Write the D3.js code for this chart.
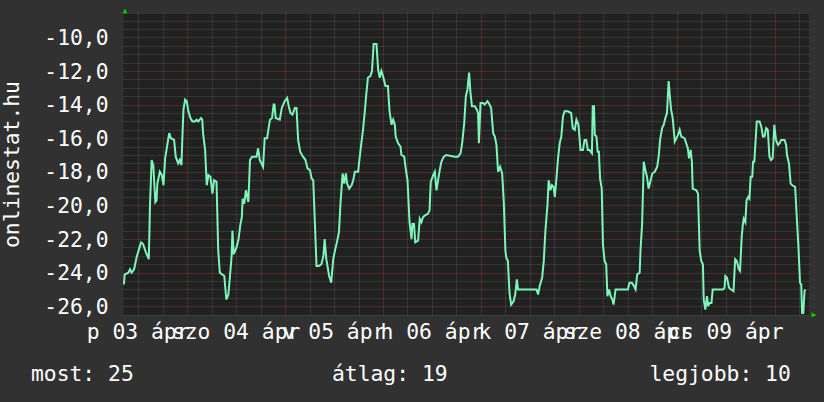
<!DOCTYPE html>
<html>
<head>
<meta charset="utf-8">
<script src="https://cdn.jsdelivr.net/npm/d3@7"></script>
<style>
body { margin: 0; background: #313131; }
svg { display: block; }
text { font-family: "DejaVu Sans Mono", monospace; font-size: 21.33px; fill: #ffffff; }
</style>
</head>
<body>
<svg id="chart" width="824" height="402"></svg>
<script>
// hours since 2015-04-03 00:00 and the value read at that time
const hours = [
  8.5, 8.7, 9.6, 10.0, 10.4, 11.0, 11.6, 12.2, 12.7, 13.2, 13.9, 14.6, 14.9, 15.3, 15.7, 16.2, 16.5, 16.7,
  17.3, 17.8, 18.2, 18.6, 19.0, 19.6, 20.0, 20.8, 21.2, 21.8, 22.2, 22.6, 22.9, 23.1, 23.5, 23.9, 24.3,
  24.8, 25.3, 25.9, 26.3, 26.7, 27.4, 27.7, 27.9, 28.4, 28.8, 29.2, 29.7, 30.2, 30.6, 31.2, 31.6, 32.0,
  33.1, 33.6, 34.1, 34.5, 34.9, 35.1, 35.4, 36.1, 36.6, 37.0, 37.4, 37.6, 38.0, 38.4, 39.0, 39.4, 39.9,
  41.0, 41.4, 41.8, 42.6, 43.0, 43.6, 43.9, 44.3, 44.8, 45.2, 45.4, 45.7, 46.7, 47.2, 47.9, 48.5, 48.9,
  49.3, 49.8, 50.4, 50.8, 51.2, 51.7, 52.4, 53.0, 53.5, 54.1, 54.5, 54.9, 55.3, 55.7, 56.3, 56.9, 57.4,
  57.7, 58.1, 58.8, 59.3, 59.8, 60.3, 60.7, 61.2, 61.6, 62.1, 62.5, 62.9, 63.2, 63.7, 64.3, 64.7, 65.1,
  65.9, 66.3, 66.7, 67.1, 67.5, 67.9, 68.3, 68.9, 69.3, 69.7, 70.4, 70.8, 71.2, 71.6, 72.0, 72.6, 73.2,
  73.6, 74.1, 74.5, 74.9, 75.1, 75.7, 76.3, 76.5, 77.2, 77.5, 78.0, 78.5, 79.0, 79.2, 79.6, 79.9, 80.6,
  81.0, 81.4, 81.8, 82.2, 83.0, 83.4, 83.7, 84.3, 84.7, 85.1, 85.5, 85.9, 86.3, 86.9, 87.5, 89.6, 90.4,
  91.0, 91.4, 91.9, 92.3, 92.7, 93.1, 93.4, 93.8, 94.5, 95.0, 95.3, 95.5, 95.9, 96.5, 96.9, 97.6, 98.1,
  98.5, 99.0, 99.4, 99.8, 100.2, 100.7, 101.2, 101.6, 102.0, 102.2, 102.6, 103.0, 103.4, 104.0, 104.4,
  104.8, 105.1, 105.9, 109.6, 110.0, 110.4, 111.0, 111.4, 111.8, 112.3, 112.6, 113.0, 113.4, 113.8,
  114.1, 114.5, 114.9, 115.3, 115.7, 116.1, 116.5, 117.3, 118.1, 118.5, 119.0, 119.4, 119.9, 120.4,
  121.0, 121.4, 121.8, 122.2, 122.6, 123.2, 123.4, 123.7, 123.9, 124.3, 124.6, 124.9, 125.2, 125.6,
  125.9, 126.3, 126.7, 127.0, 127.4, 127.8, 128.2, 128.5, 129.0, 132.0, 132.4, 133.0, 133.5, 133.9,
  134.3, 134.9, 135.1, 135.5, 135.9, 136.3, 136.7, 137.1, 137.6, 138.0, 138.6, 139.2, 139.6, 139.9,
  140.4, 140.8, 141.2, 141.6, 142.0, 142.3, 142.6, 143.0, 143.5, 143.9, 144.3, 144.7, 145.1, 145.9,
  146.3, 146.7, 147.0, 147.4, 147.7, 147.9, 148.8, 149.2, 149.6, 150.0, 150.4, 150.6, 151.0, 151.4,
  151.7, 152.0, 152.5, 152.8, 155.3, 155.7, 155.9, 156.3, 156.8, 157.3, 157.9, 158.3, 158.7, 159.2,
  159.5, 159.9, 160.2, 160.4, 160.8, 161.1, 161.5, 161.8, 162.1, 162.5, 162.7, 163.0, 163.3, 163.6,
  164.3, 164.7, 165.1, 165.5, 165.9, 166.3, 166.7, 167.1, 167.5, 167.9, 168.3, 168.8, 169.2, 169.6,
  170.4, 170.8, 171.0, 171.5, 171.9, 172.3, 173.0, 173.4, 173.8, 174.2, 174.5, 174.7, 175.0, 175.3,
  175.5
];
const values = [
  -24.7, -24.1, -24.0, -23.8, -24.0, -23.8, -23.1, -22.6, -22.2, -22.3, -22.8, -23.2, -19.9, -17.3, -17.6, -19.8, -19.7, -18.7,
  -18.0, -18.2, -18.8, -17.2, -16.6, -15.7, -16.0, -16.1, -17.1, -17.5, -17.3, -17.6, -15.5, -14.3, -13.7, -13.8, -14.4,
  -14.8, -15.0, -15.0, -14.9, -15.0, -14.8, -14.9, -15.7, -16.7, -18.8, -18.2, -18.3, -19.3, -18.5, -18.6, -22.6, -24.0,
  -24.2, -25.6, -25.3, -24.2, -23.0, -21.5, -22.9, -22.5, -22.0, -21.2, -20.7, -19.6, -19.9, -19.1, -19.8, -17.3, -17.1,
  -17.1, -16.6, -17.3, -17.7, -16.0, -16.0, -15.5, -14.9, -14.8, -14.0, -14.0, -14.8, -14.9, -14.2, -13.8, -13.6, -14.1,
  -14.5, -14.6, -14.2, -14.2, -16.1, -16.8, -17.1, -17.3, -17.8, -17.9, -18.4, -18.5, -21.0, -23.6, -23.6, -23.5, -23.0,
  -22.0, -23.2, -24.2, -24.6, -23.2, -22.6, -22.2, -21.6, -19.8, -18.1, -18.7, -18.1, -18.7, -19.0, -18.8, -18.5, -18.0,
  -18.0, -17.1, -16.3, -15.5, -14.5, -13.4, -12.4, -12.3, -12.0, -10.4, -10.4, -11.9, -12.4, -12.0, -12.3, -12.9, -12.9,
  -14.4, -15.2, -14.9, -15.2, -15.9, -16.3, -16.5, -17.0, -17.1, -17.7, -18.5, -21.0, -22.0, -21.1, -21.1, -22.2, -22.1,
  -20.8, -21.0, -20.7, -20.6, -20.5, -20.3, -18.6, -18.2, -18.0, -19.1, -18.5, -17.9, -17.4, -17.1, -17.0, -17.1, -17.1,
  -16.9, -16.3, -15.1, -13.5, -13.1, -12.1, -13.2, -14.1, -14.1, -14.3, -14.5, -16.3, -13.9, -13.9, -14.0, -13.8, -14.0,
  -14.2, -15.7, -15.9, -16.4, -18.0, -17.7, -18.1, -19.8, -22.7, -23.1, -23.3, -25.2, -25.9, -25.7, -25.3,
  -24.4, -25.0, -25.0, -25.0, -25.3, -24.8, -24.3, -23.3, -21.5, -20.0, -18.5, -19.1, -18.8, -18.9,
  -19.5, -18.4, -17.2, -16.3, -15.9, -14.7, -14.4, -14.4, -14.5, -15.4, -15.5, -14.9, -15.2, -16.7,
  -16.7, -16.1, -16.1, -16.7, -16.7, -16.9, -14.1, -14.1, -15.8, -15.9, -16.8, -16.8, -18.4, -19.0,
  -22.3, -23.3, -23.5, -25.4, -25.0, -25.4, -25.6, -25.9, -25.0, -25.0, -24.6, -24.6, -24.8, -25.0,
  -24.1, -24.0, -22.7, -21.1, -17.4, -17.9, -18.3, -19.0, -18.5, -18.1, -18.0, -17.7, -17.0, -16.1,
  -15.4, -15.2, -14.8, -14.5, -12.6, -13.5, -14.3, -14.8, -16.2, -16.0, -15.8, -15.5, -15.9, -16.0,
  -16.3, -16.6, -17.2, -16.7, -17.4, -19.0, -19.1, -19.3, -22.7, -23.3, -23.5, -25.6, -26.2, -25.4,
  -26.0, -25.8, -25.8, -25.0, -25.0, -24.9, -24.2, -24.3, -24.9, -25.0, -25.1, -23.2, -23.3, -23.8,
  -23.9, -21.9, -21.1, -20.8, -21.0, -19.7, -19.5, -19.6, -18.3, -18.3, -17.4, -17.4, -16.2, -15.0,
  -15.0, -15.3, -15.9, -15.9, -15.4, -15.5, -17.1, -17.3, -17.2, -15.2, -16.1, -16.4, -16.3, -16.1,
  -16.1, -16.4, -17.0, -17.5, -18.7, -18.8, -18.9, -20.7, -22.4, -24.6, -24.7, -26.4, -26.4, -25.1,
  -25.0
];

const yTicks = [-10, -12, -14, -16, -18, -20, -22, -24, -26];
const dayLabels = ["p 03 ápr", "szo 04 ápr", "v 05 ápr", "h 06 ápr", "k 07 ápr", "sze 08 ápr", "cs 09 ápr"];
const legendNames = ["most", "átlag", "legjobb"];
const legendValues = [25, 19, 10];

const plotLeft = 123.5, plotRight = 809, plotTop = 14, plotBottom = 315;
const t0 = Date.UTC(2015, 3, 3);
const hourMs = 3600 * 1000;
const at = h => new Date(t0 + h * hourMs);

const x = d3.scaleUtc().domain([at(8.4), at(176.4)]).range([plotLeft, plotRight]);
const y = d3.scaleLinear().domain([-26.52, -8.61]).range([plotBottom, plotTop]);

const fmt = d3.formatLocale({ decimal: ",", thousands: " ", grouping: [3], currency: ["", ""], minus: "-" }).format(".1f");

const svg = d3.select("#chart");

svg.append("rect")
  .attr("x", plotLeft).attr("y", plotTop)
  .attr("width", plotRight - plotLeft).attr("height", plotBottom - plotTop)
  .attr("fill", "#212121");

// horizontal grid, minor every 0.5, major every 2
const hVals = d3.range(-26.5, -8.6, 0.5).filter(v => y(v) >= plotTop && y(v) <= plotBottom + 0.5);
const isMajorY = v => Math.abs(v % 2) < 1e-6;
// vertical grid, minor every 6 hours, major at midnight
const vTimes = d3.utcHour.every(6).range(x.domain()[0], x.domain()[1]);
const isMajorX = d => d.getUTCHours() === 0;

const grid = svg.append("g").attr("stroke-width", 1).attr("stroke-dasharray", "1,1").attr("fill", "none");

function drawGrid(major, color) {
  grid.selectAll(null)
    .data(hVals.filter(v => isMajorY(v) === major))
    .enter().append("line")
      .attr("x1", plotLeft).attr("x2", plotRight + 2)
      .attr("y1", d => Math.round(y(d)) + 0.5).attr("y2", d => Math.round(y(d)) + 0.5)
      .attr("stroke", color);
  grid.selectAll(null)
    .data(vTimes.filter(d => isMajorX(d) === major))
    .enter().append("line")
      .attr("x1", d => Math.round(x(d)) + 0.5).attr("x2", d => Math.round(x(d)) + 0.5)
      .attr("y1", plotTop - 1.5).attr("y2", plotBottom)
      .attr("stroke", color);
}
drawGrid(false, "#4c4c4c");
drawGrid(true, "#7a3838");

// the series
const line = d3.line()
  .x((d, i) => x(at(hours[i])))
  .y(d => y(d));

svg.append("path")
  .datum(values)
  .attr("d", line)
  .attr("fill", "none")
  .attr("stroke", "#7df5bb")
  .attr("stroke-width", 2);

// axis arrows
svg.append("path")
  .attr("d", `M${plotLeft - 1},${plotTop - 0.5}L${plotLeft + 4},${plotTop - 0.5}L${plotLeft + 1.5},${plotTop - 5.5}Z`)
  .attr("fill", "#00cc00");
svg.append("path")
  .attr("d", `M${plotRight + 2.5},${plotBottom - 2.5}L${plotRight + 2.5},${plotBottom + 2.5}L${plotRight + 7.5},${plotBottom}Z`)
  .attr("fill", "#00cc00");

// y labels
svg.append("g").selectAll("text")
  .data(yTicks)
  .enter().append("text")
    .attr("x", 108.5)
    .attr("y", d => y(d))
    .attr("dy", "0.36em")
    .attr("text-anchor", "end")
    .text(d => fmt(d));

// x labels, centred on noon of each day (they overlap, as in the original)
svg.append("g").selectAll("text")
  .data(dayLabels)
  .enter().append("text")
    .attr("x", (d, i) => x(at(i * 24 + 12)))
    .attr("y", 339)
    .attr("text-anchor", "middle")
    .text(d => d);

// vertical title
svg.append("text")
  .attr("transform", `translate(18.5,${(plotTop + plotBottom) / 2}) rotate(-90)`)
  .attr("text-anchor", "middle")
  .text("onlinestat.hu");

// legend
const legendX = [31, 332, 649.5];
svg.append("g").selectAll("text")
  .data(legendNames)
  .enter().append("text")
    .attr("x", (d, i) => legendX[i])
    .attr("y", 381)
    .text((d, i) => `${d}: ${legendValues[i]}`);
</script>
</body>
</html>
